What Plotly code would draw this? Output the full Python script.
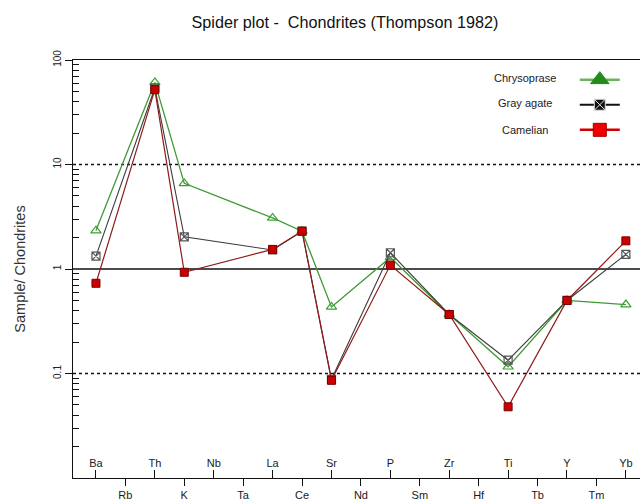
import plotly.graph_objects as go

# ---- data ----
elements = ["Ba", "Rb", "Th", "K", "Nb", "Ta", "La", "Ce", "Sr", "Nd",
            "P", "Sm", "Zr", "Hf", "Ti", "Tb", "Y", "Tm", "Yb"]
upper_labels = ["Ba", "Th", "Nb", "La", "Sr", "P", "Zr", "Ti", "Y", "Yb"]
lower_labels = ["Rb", "K", "Ta", "Ce", "Nd", "Sm", "Hf", "Tb", "Tm"]

sample_elements = ["Ba", "Th", "K", "La", "Ce", "Sr", "P", "Zr", "Ti", "Y", "Yb"]
chrysoprase = [2.33, 61.0, 6.6, 3.08, 2.3, 0.434, 1.29, 0.367, 0.116, 0.50, 0.457]
gray_agate = [1.33, 54.0, 2.03, 1.52, 2.3, 0.088, 1.43, 0.367, 0.134, 0.50, 1.38]
carnelian = [0.73, 52.0, 0.93, 1.54, 2.3, 0.086, 1.09, 0.367, 0.048, 0.50, 1.86]

series_names = ["Chrysoprase", "Gray agate", "Camelian"]

y_ticks = [0.01, 0.1, 1, 10, 100]
y_ticktext = ["0.01", "0.1", "1", "10", "100"]
minor_vals = [m * d for d in [0.01, 0.1, 1, 10] for m in range(2, 10)]

FONT = "Liberation Sans, Arial, sans-serif"
GREEN = "#3f9a35"
GRAY = "#3c3c3c"
RED = "#8e1a1a"
INK = "#111111"

fig = go.Figure()

# data traces
fig.add_trace(go.Scatter(
    x=sample_elements, y=chrysoprase, mode="lines+markers", showlegend=False,
    line=dict(color=GREEN, width=1.3),
    marker=dict(symbol="triangle-up-open", size=9, color="#3aa032", line=dict(width=1.2))))
fig.add_trace(go.Scatter(
    x=sample_elements, y=gray_agate, mode="lines+markers", showlegend=False,
    line=dict(color=GRAY, width=1.1),
    marker=dict(symbol="square-x-open", size=8, color="#555555", line=dict(width=1.2))))
fig.add_trace(go.Scatter(
    x=sample_elements, y=carnelian, mode="lines+markers", showlegend=False,
    line=dict(color=RED, width=1.2),
    marker=dict(symbol="square", size=8, color="#cc0000", line=dict(color="#7a0000", width=1))))

# legend entries
fig.add_trace(go.Scatter(
    x=[None], y=[None], mode="lines+markers", name="",
    line=dict(color="#6ab55c", width=2.5),
    marker=dict(symbol="triangle-up", size=16, color="#238a1b", line=dict(color="#238a1b", width=1))))
fig.add_trace(go.Scatter(
    x=[None], y=[None], mode="lines+markers", name="",
    line=dict(color="#111111", width=2),
    marker=dict(symbol="square-x", size=11, color="#111111", line=dict(color="#e0e0e0", width=1))))
fig.add_trace(go.Scatter(
    x=[None], y=[None], mode="lines+markers", name="",
    line=dict(color="#d00000", width=2.5),
    marker=dict(symbol="square", size=13, color="#ee0000", line=dict(color="#a00000", width=1))))

# reference lines
for val, dash, w in [(10, "dot", 1.6), (0.1, "dot", 1.6), (1, "solid", 1.5)]:
    fig.add_shape(type="line", xref="paper", x0=0, x1=1, yref="y", y0=val, y1=val,
                  line=dict(color=INK, width=w, dash=dash), layer="below")

x_range = [-0.78, 18.48]

fig.update_layout(
    template="none",
    width=640, height=500,
    margin=dict(l=73, r=0, t=60, b=22, autoexpand=False),
    paper_bgcolor="white", plot_bgcolor="white",
    font=dict(family=FONT, color="#222222"),
    title=dict(text="Spider plot -  Chondrites (Thompson 1982)", x=0.539, xanchor="center",
               y=0.956, yanchor="middle", font=dict(size=16.2, color=INK, family=FONT)),
    xaxis=dict(
        type="category", categoryorder="array", categoryarray=elements,
        range=x_range, tickmode="array", tickvals=lower_labels, ticktext=lower_labels,
        ticks="outside", ticklen=7, tickcolor=INK, tickwidth=1.2, automargin=False,
        showgrid=False, zeroline=False, showline=True, linecolor=INK, linewidth=1.4,
        mirror=True, tickfont=dict(size=11, color="#1a1a1a")),
    xaxis2=dict(
        type="category", categoryorder="array", categoryarray=elements,
        overlaying="x", matches="x", anchor="y", side="bottom", automargin=False,
        range=x_range, tickmode="array", tickvals=upper_labels, ticktext=upper_labels,
        ticks="inside", ticklen=8, tickcolor=INK, tickwidth=1.2,
        ticklabelposition="inside", showgrid=False, zeroline=False, showline=False,
        tickfont=dict(size=11, color="#1a1a1a")),
    yaxis=dict(
        type="log", range=[-2, 2], tickmode="array", tickvals=y_ticks, ticktext=y_ticktext,
        tickangle=-90, ticks="outside", ticklen=7, tickcolor=INK, tickwidth=1.2,
        automargin=False,
        showgrid=False, zeroline=False, showline=True, linecolor=INK, linewidth=1.4,
        tickfont=dict(size=10, color="#222222"),
        minor=dict(tickmode="array", tickvals=minor_vals, ticks="inside", ticklen=6,
                   tickcolor=INK, tickwidth=1, showgrid=False),
        title=dict(text="Sample/ Chondrites", font=dict(size=14.5, color="#333333"), standoff=22)),
    legend=dict(x=0.885, y=0.995, xanchor="left", yanchor="top", bgcolor="rgba(0,0,0,0)",
                font=dict(size=17), itemwidth=40, tracegroupgap=0),
    showlegend=True,
)

# invisible trace on xaxis2 so that the upper label row is drawn
fig.add_trace(go.Scatter(x=[elements[0]], y=[None], xaxis="x2", showlegend=False,
                         hoverinfo="skip", mode="markers"))

label_y = [0.957, 0.897, 0.833]
for i, nm in enumerate(series_names):
    fig.add_annotation(text=nm, xref="paper", yref="paper", x=0.797,
                       y=label_y[i], showarrow=False, xanchor="center",
                       yanchor="middle", font=dict(size=11, color="#222222"))

fig.write_html("out.html", config={"displayModeBar": False},
               post_script="document.body.style.margin='0';")
